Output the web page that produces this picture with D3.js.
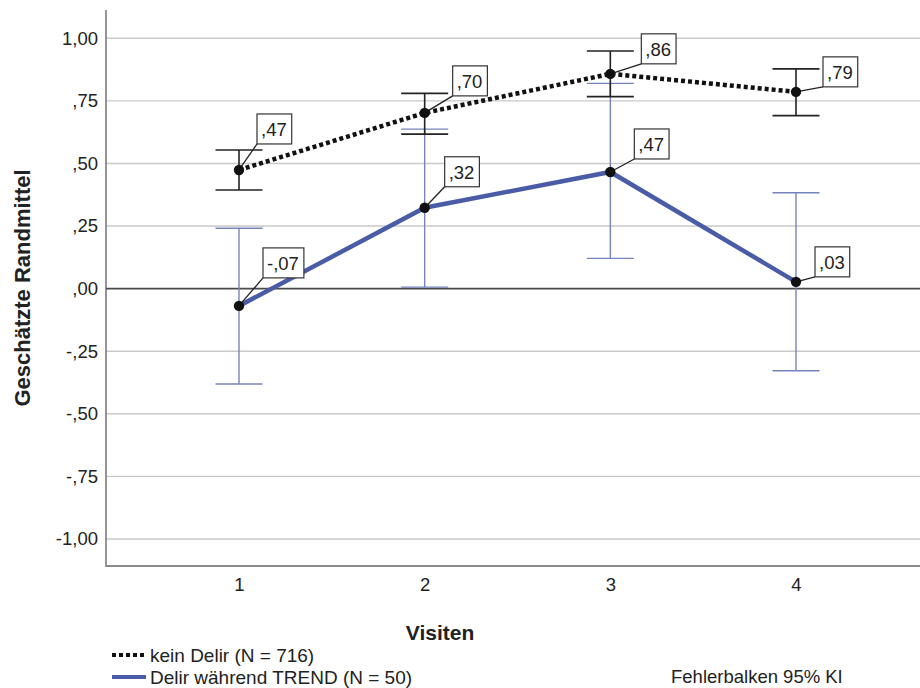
<!DOCTYPE html>
<html>
<head>
<meta charset="utf-8">
<script src="https://cdn.jsdelivr.net/npm/d3@7"></script>
<style>
  html, body { margin: 0; padding: 0; background: #fff; }
  svg { display: block; font-family: "Liberation Sans", Arial, sans-serif; }
</style>
</head>
<body>
<svg id="chart" width="920" height="688"></svg>
<script>
// ---- data ----
const visits = [1, 2, 3, 4];
const keinMean = [0.474, 0.702, 0.858, 0.786];
const keinLower = [0.394, 0.617, 0.767, 0.691];
const keinUpper = [0.554, 0.780, 0.949, 0.878];
const delirMean = [-0.069, 0.323, 0.466, 0.027];
const delirLower = [-0.381, 0.006, 0.121, -0.328];
const delirUpper = [0.241, 0.637, 0.820, 0.383];
const yTicks = [-1, -0.75, -0.5, -0.25, 0, 0.25, 0.5, 0.75, 1];
const seriesNames = ["kein Delir (N = 716)", "Delir während TREND (N = 50)"];
const yTitle = "Geschätzte Randmittel";
const xTitle = "Visiten";
const footnote = "Fehlerbalken 95% KI";
// label box offsets (bottom-left corner relative to point), layout only
const keinLabelOffset = [[18, -26], [28, -17], [31, -10], [27, -5]];
const delirLabelOffset = [[24, -28], [20, -21], [24, -13], [19, -5]];

// ---- layout ----
const svg = d3.select("#chart");
const pLeft = 106, pRight = 920, pTop = 10, pBottom = 566;
const x = d3.scaleLinear().domain([1, 4]).range([239, 796]);
const y = d3.scaleLinear().domain([-1.108, 1.113]).range([pBottom, pTop]);
const fmt = v => d3.format(".2f")(v).replace("\u2212", "-").replace("0.", ",").replace(".", ",");

const blue = "#4a5ca6";
const blueLight = "#7584bd";
const FONT = "'Liberation Sans', Arial, sans-serif";

// gridlines
svg.append("g").selectAll("line").data(yTicks.filter(t => t !== 0)).join("line")
  .attr("x1", pLeft).attr("x2", pRight)
  .attr("y1", d => y(d)).attr("y2", d => y(d))
  .attr("stroke", "#c9c9c9").attr("stroke-width", 1.4);

// y axis
const yAxis = svg.append("g").attr("transform", `translate(${pLeft},0)`)
  .call(d3.axisLeft(y).tickValues(yTicks).tickSize(0).tickPadding(8).tickFormat(fmt));
yAxis.select(".domain").remove();
yAxis.selectAll("text").attr("font-size", 18.5).attr("fill", "#222").attr("font-family", FONT);

// x axis
const xAxis = svg.append("g").attr("transform", `translate(0,${pBottom})`)
  .call(d3.axisBottom(x).tickValues(visits).tickSize(0).tickPadding(12).tickFormat(d3.format("d")));
xAxis.select(".domain").remove();
xAxis.selectAll("text").attr("font-size", 18.5).attr("fill", "#222").attr("font-family", FONT);

// axis lines
svg.append("path")
  .attr("d", `M${pLeft},${pTop}V${pBottom}H${pRight}`)
  .attr("fill", "none").attr("stroke", "#8a8a8a").attr("stroke-width", 1.8);

// zero line
svg.append("line").attr("x1", pLeft).attr("x2", pRight)
  .attr("y1", y(0)).attr("y2", y(0))
  .attr("stroke", "#4a4a4a").attr("stroke-width", 1.6);

// error bars
function errorBars(lower, upper, color, w) {
  const g = svg.append("g").attr("stroke", color).attr("stroke-width", w).attr("fill", "none");
  visits.forEach((v, i) => {
    const cx = x(v);
    g.append("line").attr("x1", cx).attr("x2", cx).attr("y1", y(lower[i])).attr("y2", y(upper[i]));
    g.append("line").attr("x1", cx - 23.5).attr("x2", cx + 23.5).attr("y1", y(lower[i])).attr("y2", y(lower[i]));
    g.append("line").attr("x1", cx - 23.5).attr("x2", cx + 23.5).attr("y1", y(upper[i])).attr("y2", y(upper[i]));
  });
}
errorBars(delirLower, delirUpper, blueLight, 1.4);
errorBars(keinLower, keinUpper, "#222", 1.6);

// lines
const line = d3.line().x((d, i) => x(visits[i])).y(d => y(d));
svg.append("path").datum(delirMean).attr("d", line)
  .attr("fill", "none").attr("stroke", blue).attr("stroke-width", 4.5);
svg.append("path").datum(keinMean).attr("d", line)
  .attr("fill", "none").attr("stroke", "#111").attr("stroke-width", 4.5)
  .attr("stroke-dasharray", "4,3");

// labels + points
function labels(means, offsets) {
  const g = svg.append("g");
  means.forEach((m, i) => {
    const px = x(visits[i]), py = y(m);
    const [dx, dy] = offsets[i];
    const txt = fmt(m);
    g.append("line").attr("x1", px).attr("y1", py).attr("x2", px + dx).attr("y2", py + dy)
      .attr("stroke", "#222").attr("stroke-width", 1.3);
    const rect = g.append("rect");
    const t = g.append("text").attr("font-size", 18.5).attr("fill", "#222")
      .attr("x", px + dx + 4).attr("y", py + dy - 8).text(txt);
    const bw = t.node().getComputedTextLength() + 9;
    const bh = 30;
    rect.attr("x", px + dx).attr("y", py + dy - bh)
      .attr("width", bw).attr("height", bh)
      .attr("fill", "#fff").attr("stroke", "#333").attr("stroke-width", 1.2);
  });
}
labels(keinMean, keinLabelOffset);
labels(delirMean, delirLabelOffset);

svg.append("g").selectAll("circle").data(keinMean.concat(delirMean)).join("circle")
  .attr("cx", (d, i) => x(visits[i % 4])).attr("cy", d => y(d)).attr("r", 5.2)
  .attr("fill", "#111");

// titles
svg.append("text").attr("transform", `translate(30,288) rotate(-90)`)
  .attr("text-anchor", "middle").attr("font-size", 22).attr("font-weight", "bold")
  .attr("fill", "#222").text(yTitle);
svg.append("text").attr("x", 440).attr("y", 640).attr("text-anchor", "middle")
  .attr("font-size", 21).attr("font-weight", "bold").attr("fill", "#222").text(xTitle);

// legend
const lg = svg.append("g");
lg.append("line").attr("x1", 112).attr("x2", 146).attr("y1", 655).attr("y2", 655)
  .attr("stroke", "#111").attr("stroke-width", 4).attr("stroke-dasharray", "4,3");
lg.append("line").attr("x1", 112).attr("x2", 146).attr("y1", 677).attr("y2", 677)
  .attr("stroke", blue).attr("stroke-width", 4);
lg.selectAll("text").data(seriesNames).join("text")
  .attr("x", 150).attr("y", (d, i) => 662 + i * 21.5)
  .attr("font-size", 19).attr("fill", "#222").text(d => d);
svg.append("text").attr("x", 671).attr("y", 683).attr("font-size", 18.5)
  .attr("fill", "#222").text(footnote);
</script>
</body>
</html>
